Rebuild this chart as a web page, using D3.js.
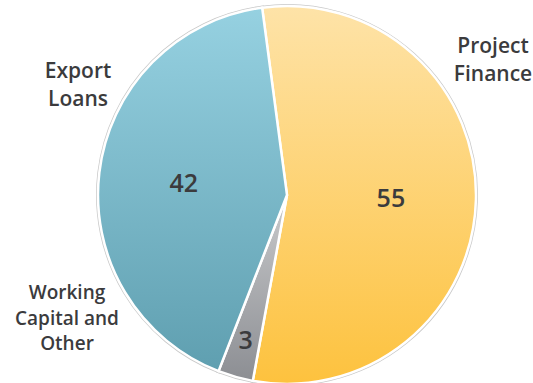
<!DOCTYPE html>
<html>
<head>
<meta charset="utf-8">
<script src="https://cdn.jsdelivr.net/npm/d3@7"></script>
<style>
  html, body { margin: 0; padding: 0; background: #fff; }
  svg { display: block; }
  text { font-family: "Open Sans", "Noto Sans", sans-serif; font-weight: 600; fill: #3b3b3d; }
</style>
</head>
<body>
<svg id="chart" width="533" height="383"></svg>
<script>
// Loan book split by product (clockwise from the top)
const categories = ["Project Finance", "Working Capital and Other", "Export Loans"];
const values = [55, 3, 42];
const labelLines = [["Project", "Finance"], ["Working", "Capital and", "Other"], ["Export", "Loans"]];
const gradientStops = [
  ["#fee3a8", "#fdc23e"],
  ["#c9cacc", "#8c8e93"],
  ["#96d1e1", "#5f9fb0"]
];

const width = 533, height = 383;
const cx = 287, cy = 195, radius = 189;
const startAngle = -0.132;

const svg = d3.select("#chart");
const defs = svg.append("defs");

gradientStops.forEach((stops, i) => {
  const g = defs.append("linearGradient")
    .attr("id", "grad" + i)
    .attr("x1", 0).attr("y1", 0).attr("x2", 0).attr("y2", 1);
  g.append("stop").attr("offset", "0%").attr("stop-color", stops[0]);
  g.append("stop").attr("offset", "100%").attr("stop-color", stops[1]);
});

const pie = d3.pie()
  .sort(null)
  .value(d => d)
  .startAngle(startAngle)
  .endAngle(startAngle + 2 * Math.PI);

const arcs = pie(values);
const arc = d3.arc().innerRadius(0).outerRadius(radius);

// narrow slices get their number further out, where the slice is wider
const labelRadius = d => (d.endAngle - d.startAngle < 0.4 ? 0.8 : 0.55) * radius;
const labelPos = d => d3.arc().innerRadius(labelRadius(d)).outerRadius(labelRadius(d)).centroid(d);

const plot = svg.append("g").attr("transform", `translate(${cx},${cy})`);

// faint grey rim under the white slice borders
plot.selectAll("path.rim")
  .data(arcs)
  .join("path")
  .attr("class", "rim")
  .attr("d", arc)
  .attr("fill", "none")
  .attr("stroke", "#c9c9c9")
  .attr("stroke-width", 4);

plot.selectAll("path.slice")
  .data(arcs)
  .join("path")
  .attr("class", "slice")
  .attr("d", arc)
  .attr("fill", (d, i) => `url(#grad${i})`)
  .attr("stroke", "#ffffff")
  .attr("stroke-width", 2.5)
  .attr("stroke-linejoin", "miter");

// value labels inside each slice
plot.selectAll("text.value")
  .data(arcs)
  .join("text")
  .attr("class", "value")
  .attr("transform", d => `translate(${labelPos(d)})`)
  .attr("text-anchor", "middle")
  .attr("dy", "0.36em")
  .style("font-size", "25px")
  .text(d => d.value);

// category names outside the pie
const namePos = [
  { x: 493, y: 53, size: 21, lead: 28 },
  { x: 67, y: 299, size: 19, lead: 25.5 },
  { x: 78, y: 78, size: 21, lead: 28 }
];

categories.forEach((c, i) => {
  const p = namePos[i];
  const t = svg.append("text")
    .attr("class", "name")
    .attr("text-anchor", "middle")
    .style("font-size", p.size + "px");
  labelLines[i].forEach((line, j) => {
    t.append("tspan")
      .attr("x", p.x)
      .attr("y", p.y + j * p.lead)
      .text(line);
  });
});
</script>
</body>
</html>
